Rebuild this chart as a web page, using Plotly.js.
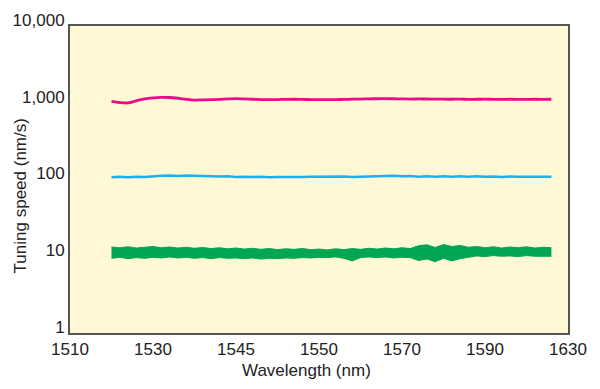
<!DOCTYPE html>
<html>
<head>
<meta charset="utf-8">
<script src="https://cdn.plot.ly/plotly-3.0.1.min.js"></script>
<style>html,body{margin:0;padding:0;background:#fff;}#chart{width:600px;height:389px;}</style>
</head>
<body>
<div id="chart"></div>
<script>
// Wavelength grid (nm)
const wavelength = [1520,1522,1524,1526,1528,1530,1532,1534,1536,1538,1540,1542,1544,1546,1548,1550,1552,1554,1556,1558,1560,1562,1564,1566,1568,1570,1572,1574,1576,1578,1580,1582,1584,1586,1588,1590,1592,1594,1596,1598,1600,1602,1604,1606,1608,1610,1612,1614,1616,1618,1620,1622,1624,1626];

// Tuning speed ~1000 nm/s (magenta)
const speed1000 = [1045,1005,995,1060,1125,1160,1175,1170,1145,1110,1085,1090,1095,1105,1120,1130,1120,1110,1100,1095,1100,1108,1110,1105,1100,1098,1095,1097,1105,1112,1118,1125,1128,1130,1127,1122,1118,1120,1119,1115,1112,1110,1113,1108,1110,1112,1109,1106,1110,1108,1105,1110,1109,1110];

// Tuning speed ~100 nm/s (cyan)
const speed100 = [107,108.5,107,109,108,110.5,112,113,111,113,111.5,110,111,109.5,110,108,109,107.5,108.5,107,108,107.5,109,107.5,108.5,109,110,108.5,109.5,108,109,108.5,110,111.5,112,110,111,109,110.5,109,110,108.5,110,109,110.5,108.5,109.5,108,109.5,108.5,109,108,109.5,108.5];

// Tuning speed ~10 nm/s (green, noisy band: upper and lower envelope)
const speed10Upper = [13.2,12.9,13.3,12.8,13.1,13.4,12.9,13.2,12.8,13.1,12.7,13.0,12.6,12.9,12.5,12.8,12.4,12.7,12.3,12.6,12.2,12.5,12.3,12.6,12.2,12.4,12.1,12.5,12.2,12.6,12.3,12.7,12.4,12.8,12.5,12.9,12.6,13.7,14.1,13.0,14.2,13.4,13.8,13.1,13.4,12.9,13.3,12.8,13.2,12.9,13.3,12.8,13.1,12.9];
const speed10Lower = [9.4,9.7,9.3,9.6,9.4,9.7,9.5,9.8,9.5,9.7,9.4,9.6,9.3,9.6,9.4,9.5,9.3,9.5,9.2,9.4,9.3,9.5,9.4,9.6,9.5,9.7,9.6,9.8,9.4,8.7,9.6,9.8,9.6,9.8,9.5,9.7,9.6,8.8,9.2,8.5,9.4,8.7,9.3,9.8,10.1,9.9,10.2,10.0,10.1,9.9,10.2,10.0,10.1,10.0];

// Axis ticks
const xTickVals = [1510,1530,1550,1570,1590,1610,1630];
const xTickText = ['1510','1530','1545','1550','1570','1590','1630'];
const yTickVals = [1,10,100,1000,10000];
const yTickText = ['1','10','100','1,000','10,000'];

const MAGENTA = '#ec0a8c';
const CYAN = '#1fb0ea';
const GREEN = '#00a651';
const FONT = 'Liberation Sans, Arial, Helvetica, sans-serif';
const TXT = '#222';

const traces = [
  {x: wavelength, y: speed10Lower, type: 'scatter', mode: 'lines',
   line: {color: GREEN, width: 1}, showlegend: false, hoverinfo: 'skip'},
  {x: wavelength, y: speed10Upper, type: 'scatter', mode: 'lines', fill: 'tonexty',
   fillcolor: GREEN, line: {color: GREEN, width: 1}, showlegend: false},
  {x: wavelength, y: speed100, type: 'scatter', mode: 'lines',
   line: {color: CYAN, width: 2.5}, showlegend: false},
  {x: wavelength, y: speed1000, type: 'scatter', mode: 'lines',
   line: {color: MAGENTA, width: 2.8, shape: 'spline'}, showlegend: false}
];

const layout = {
  width: 600, height: 389,
  margin: {l: 70, r: 32, t: 26, b: 56},
  paper_bgcolor: '#ffffff',
  plot_bgcolor: '#fef9d4',
  font: {family: FONT, size: 17, color: TXT},
  showlegend: false,
  xaxis: {
    range: [1510, 1630],
    tickmode: 'array', tickvals: xTickVals, ticktext: xTickText,
    showgrid: false, zeroline: false, ticks: '',
    showline: true, mirror: true, linecolor: '#555', linewidth: 2,
    tickfont: {family: FONT, size: 17, color: TXT}
  },
  yaxis: {
    type: 'log', range: [0, 4],
    tickmode: 'array', tickvals: yTickVals, ticktext: yTickText,
    showgrid: false, zeroline: false, ticks: '',
    showline: true, mirror: true, linecolor: '#555', linewidth: 2,
    ticklabelshift: -6,
    tickfont: {family: FONT, size: 17, color: TXT}
  },
  annotations: [
    {text: 'Wavelength (nm)', xref: 'paper', yref: 'paper', x: 0.475, y: 0,
     yshift: -37, xanchor: 'center', yanchor: 'middle', showarrow: false,
     font: {family: FONT, size: 17, color: TXT}},
    {text: 'Tuning speed (nm/s)', xref: 'paper', yref: 'paper', x: 0, y: 0.445,
     xshift: -50, xanchor: 'center', yanchor: 'middle', textangle: -90, showarrow: false,
     font: {family: FONT, size: 17, color: TXT}}
  ]
};

Plotly.newPlot('chart', traces, layout, {displayModeBar: false, staticPlot: true});
</script>
</body>
</html>
